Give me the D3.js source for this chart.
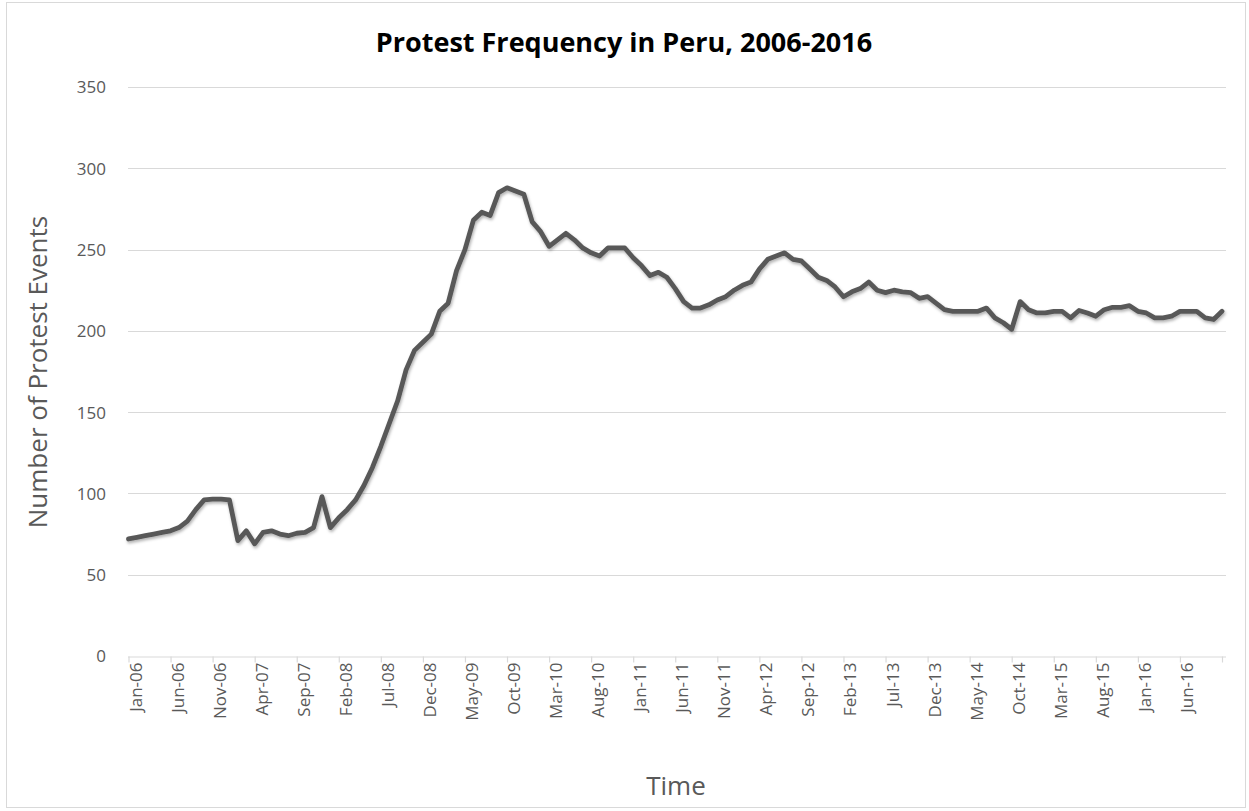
<!DOCTYPE html>
<html>
<head>
<meta charset="utf-8">
<script src="https://cdn.jsdelivr.net/npm/d3@7"></script>
<style>
  html, body { margin: 0; padding: 0; background: #fff; }
  svg { display: block; }
</style>
</head>
<body>
<svg id="chart" width="1249" height="811"></svg>
<script>
// ---- data ----
const title = "Protest Frequency in Peru, 2006-2016";
const yTitle = "Number of Protest Events";
const xTitle = "Time";
const startMonth = new Date(2006, 0, 1);
const endMonth = new Date(2016, 10, 1); // Nov-16
const protestEvents = [
  72, 73, 74, 75, 76, 77, 79, 83, 90, 96,
  96.5, 96.5, 96, 71, 77, 69, 76, 77, 75, 74,
  75.5, 76, 79, 98, 79, 85, 90, 96, 105, 116,
  129, 143, 157, 176, 188, 193, 198, 212, 217, 237,
  250, 268, 273, 271, 285, 288, 286, 284, 267, 261,
  252, 256, 260, 256, 251, 248, 246, 251, 251, 251,
  245, 240, 234, 236, 233, 226, 218, 214, 214, 216,
  219, 221, 225, 228, 230, 238, 244, 246, 248, 244,
  243, 238, 233, 231, 227, 221, 224, 226, 230, 225,
  223.5, 225, 224, 223.5, 220, 221, 217, 213, 212, 212,
  212, 212, 214, 208, 205, 201, 218, 213, 211, 211,
  212, 212, 208, 212.5, 211, 209, 213, 214.5, 214.5, 215.5,
  212, 211, 208, 208, 209, 212, 212, 212, 208, 207,
  212
];
const tickLabels = ["Jan-06","Jun-06","Nov-06","Apr-07","Sep-07","Feb-08","Jul-08","Dec-08",
  "May-09","Oct-09","Mar-10","Aug-10","Jan-11","Jun-11","Nov-11","Apr-12","Sep-12","Feb-13",
  "Jul-13","Dec-13","May-14","Oct-14","Mar-15","Aug-15","Jan-16","Jun-16"];
const yTicks = [0, 50, 100, 150, 200, 250, 300, 350];

// ---- build ----
const fmt = d3.timeFormat("%b-%y");
const categories = d3.timeMonth.range(startMonth, d3.timeMonth.offset(endMonth, 1)).map(fmt);
const data = categories.map((c, i) => ({ c, v: protestEvents[i] }));

const svg = d3.select("#chart");
const plotLeft = 128, plotRight = 1226, lineRight = 1222;
const x = d3.scalePoint().domain(categories).range([plotLeft + 0.5, lineRight]);
const y = d3.scaleLinear().domain([0, 350]).range([656, 87]);

const textGrey = "#595959";
const gridCol = "#d9d9d9";

// chart border
svg.append("rect").attr("x", 6.5).attr("y", 2.5).attr("width", 1239).attr("height", 805)
  .attr("fill", "#fff").attr("stroke", "#d9d9d9").attr("stroke-width", 1);

// title
svg.append("text").attr("x", 624).attr("y", 52).attr("text-anchor", "middle")
  .attr("font-family", "Open Sans").attr("font-weight", "bold").attr("font-size", 27)
  .attr("fill", "#000").text(title);

// gridlines
svg.append("g").selectAll("line").data(yTicks.filter(d => d > 0)).join("line")
  .attr("x1", plotLeft).attr("x2", plotRight)
  .attr("y1", d => Math.round(y(d)) + 0.5).attr("y2", d => Math.round(y(d)) + 0.5)
  .attr("stroke", gridCol).attr("stroke-width", 1.2);

// y axis labels
const yAxis = d3.axisLeft(y).tickValues(yTicks).tickSize(0).tickPadding(0);
const gy = svg.append("g").attr("transform", "translate(106,0)").call(yAxis);
gy.select(".domain").remove();
gy.selectAll("text").attr("font-family", "Open Sans").attr("font-size", 17)
  .attr("fill", textGrey).attr("dy", "0.35em");

// x axis
const tickCats = categories.filter((c, i) => i % 5 === 0);
const xAxis = d3.axisBottom(x).tickValues(tickCats).tickSize(6)
  .tickFormat(d => tickLabels.includes(d) ? d : "");
const gx = svg.append("g").attr("transform", "translate(0,656.5)").call(xAxis);
gx.select(".domain").attr("d", `M${plotLeft},0.5H${plotRight}`).attr("stroke", gridCol).attr("stroke-width", 1.2);
gx.selectAll(".tick line").attr("stroke", gridCol).attr("stroke-width", 1.2);
gx.selectAll(".tick text")
  .attr("font-family", "Open Sans").attr("font-size", 17).attr("fill", textGrey)
  .attr("text-anchor", "end")
  .attr("transform", "translate(12.5,6) rotate(-90)")
  .attr("x", 0).attr("y", 0).attr("dy", 0);

// axis titles
svg.append("text").attr("transform", "translate(47,372) rotate(-90)")
  .attr("text-anchor", "middle").attr("font-family", "Open Sans").attr("font-size", 26)
  .attr("fill", textGrey).text(yTitle);
svg.append("text").attr("x", 676).attr("y", 795).attr("text-anchor", "middle")
  .attr("font-family", "Open Sans").attr("font-size", 26)
  .attr("fill", textGrey).text(xTitle);

// shadow filter
const defs = svg.append("defs");
const f = defs.append("filter").attr("id", "shadow").attr("x", "-5%").attr("y", "-5%")
  .attr("width", "110%").attr("height", "115%");
f.append("feDropShadow").attr("dx", 1).attr("dy", 2).attr("stdDeviation", 1.6)
  .attr("flood-color", "#000").attr("flood-opacity", 0.3);

// line
const line = d3.line().x(d => x(d.c)).y(d => y(d.v));
svg.append("path").datum(data).attr("d", line)
  .attr("fill", "none").attr("stroke", "#595959").attr("stroke-width", 4.8)
  .attr("stroke-linejoin", "round").attr("stroke-linecap", "round")
  .attr("filter", "url(#shadow)");
</script>
</body>
</html>
